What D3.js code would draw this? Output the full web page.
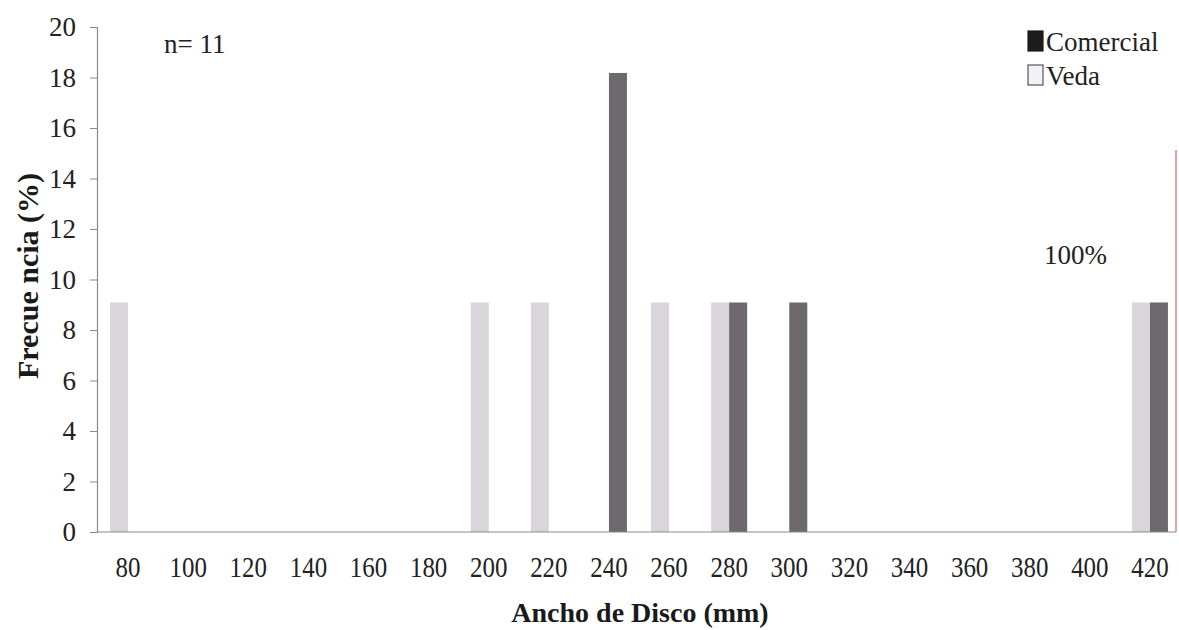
<!DOCTYPE html>
<html>
<head>
<meta charset="utf-8">
<script src="https://cdn.jsdelivr.net/npm/d3@7"></script>
<style>
  html, body { margin: 0; padding: 0; background: #ffffff; }
  svg { display: block; font-family: 'Liberation Serif', 'Times New Roman', serif; }
</style>
</head>
<body>
<svg id="chart" width="1179" height="630"></svg>
<script>
// Disc width classes (mm)
const categories = [80, 100, 120, 140, 160, 180, 200, 220, 240, 260, 280, 300, 320, 340, 360, 380, 400, 420];
// Frequency (%) per class, n = 11
const veda      = [9.09, 0, 0, 0, 0, 0, 9.09, 9.09, 0, 9.09, 9.09, 0, 0, 0, 0, 0, 0, 9.09];
const comercial = [0, 0, 0, 0, 0, 0, 0, 0, 18.18, 0, 9.09, 9.09, 0, 0, 0, 0, 0, 9.09];
const seriesNames = ["Veda", "Comercial"];
const yTicks = [0, 2, 4, 6, 8, 10, 12, 14, 16, 18, 20];

const svg = d3.select("#chart");
const serif = "'Liberation Serif', 'Times New Roman', serif";
const plot = { left: 97, right: 1176, top: 27, bottom: 532 };

const x = d3.scaleBand()
  .domain(categories)
  .range([plot.left + 1, 1180]);

const pairWidth = 36;
const xSub = d3.scaleBand()
  .domain(seriesNames)
  .range([0, pairWidth]);

const y = d3.scaleLinear().domain([0, 20]).range([plot.bottom, plot.top]);

const colors = { Veda: "#d9d5db", Comercial: "#6e696d" };

// Bars
const rows = categories.map((c, i) => ({ c, Veda: veda[i], Comercial: comercial[i] }));
const groups = svg.append("g").selectAll("g").data(rows).join("g")
  .attr("transform", d => `translate(${x(d.c) + (x.bandwidth() - pairWidth) / 2},0)`);
groups.selectAll("rect")
  .data(d => seriesNames.map(s => ({ s, v: d[s] })).filter(e => e.v > 0))
  .join("rect")
  .attr("x", e => xSub(e.s))
  .attr("width", xSub.bandwidth())
  .attr("y", e => y(e.v))
  .attr("height", e => y(0) - y(e.v))
  .attr("fill", e => colors[e.s]);

// Y axis
const yAxis = svg.append("g")
  .attr("transform", `translate(${plot.left},0)`)
  .call(d3.axisLeft(y).tickValues(yTicks).tickSize(7).tickPadding(14));
yAxis.attr("font-family", serif);
yAxis.select(".domain").attr("stroke", "#8a8a8a").attr("stroke-width", 1.2);
yAxis.selectAll(".tick line").attr("stroke", "#8a8a8a");
yAxis.selectAll("text")
  .attr("font-size", 27).attr("fill", "#222").attr("font-family", serif)
  .attr("dy", "0.33em");

// X axis
const xAxis = svg.append("g")
  .attr("transform", `translate(0,${plot.bottom})`)
  .call(d3.axisBottom(x).tickSize(0));
xAxis.attr("font-family", serif);
xAxis.select(".domain").attr("stroke", "#8a8a8a").attr("stroke-width", 1.2)
  .attr("d", `M${plot.left},0H${plot.right}`);
xAxis.selectAll("text")
  .attr("font-size", 29).attr("fill", "#222").attr("font-family", serif)
  .attr("y", 45).attr("dy", 0)
  .attr("transform", "scale(0.86,1)");

// Axis titles
svg.append("text")
  .attr("x", 640).attr("y", 622)
  .attr("text-anchor", "middle")
  .attr("font-size", 28).attr("font-weight", "bold").attr("fill", "#1a1a1a")
  .text("Ancho de Disco (mm)");

svg.append("text")
  .attr("transform", "translate(38,276) rotate(-90)")
  .attr("text-anchor", "middle")
  .attr("font-size", 30).attr("font-weight", "bold").attr("fill", "#1a1a1a")
  .text("Frecue ncia (%)");

// Annotations
svg.append("text").attr("x", 164).attr("y", 53)
  .attr("font-size", 27).attr("fill", "#222").text("n= 11");
svg.append("text").attr("x", 1044).attr("y", 264)
  .attr("font-size", 27).attr("fill", "#222").text("100%");

// Right-hand marker line
svg.append("line")
  .attr("x1", plot.right).attr("x2", plot.right)
  .attr("y1", 150).attr("y2", plot.bottom)
  .attr("stroke", "#d9828f").attr("stroke-width", 1.5);

// Legend
const legend = svg.append("g");
const legendItems = [
  { name: "Comercial", fill: "#1c1c1c", stroke: "#1c1c1c", y: 31 },
  { name: "Veda", fill: "#f3f1f5", stroke: "#555", y: 65 }
];
legend.selectAll("rect").data(legendItems).join("rect")
  .attr("x", 1028).attr("y", d => d.y)
  .attr("width", 15).attr("height", 20)
  .attr("fill", d => d.fill).attr("stroke", d => d.stroke).attr("stroke-width", 1.2);
legend.selectAll("text").data(legendItems).join("text")
  .attr("x", 1046).attr("y", d => d.y + 20)
  .attr("font-size", 27).attr("fill", "#222").attr("font-family", serif)
  .text(d => d.name);
</script>
</body>
</html>
